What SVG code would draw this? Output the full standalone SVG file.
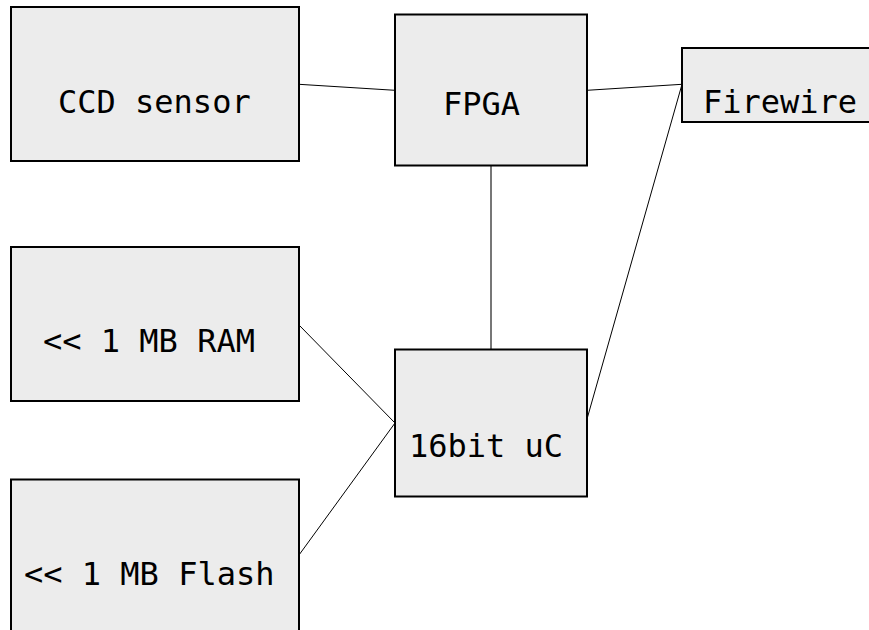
<svg xmlns="http://www.w3.org/2000/svg" width="869" height="630" viewBox="0 0 869 630">
<style>
.box{fill:#ececec;stroke:#000;stroke-width:2}
.lbl{font-family:"DejaVu Sans Mono",monospace;font-size:32px;fill:#000}
.con{stroke:#000;stroke-width:1;fill:none}
.gray{stroke:#777;stroke-width:2}
</style>
<rect width="869" height="630" fill="#fff"/>
<g id="connectors">
<line class="con" x1="299" y1="84.3" x2="395" y2="90.3"/>
<line class="con" x1="587" y1="90.3" x2="682" y2="84.3"/>
<line class="con gray" x1="491" y1="166" x2="491" y2="349"/>
<line class="con" x1="682" y1="84.3" x2="587" y2="419"/>
<line class="con" x1="299" y1="325" x2="395" y2="423"/>
<line class="con" x1="299" y1="555" x2="395" y2="423"/>
</g>
<g id="ccd"><rect class="box" x="11" y="7" width="288" height="154"/><text class="lbl" x="58" y="113">CCD sensor</text></g>
<g id="fpga"><rect class="box" x="395" y="14.5" width="192" height="151"/><text class="lbl" x="443" y="115">FPGA</text></g>
<g id="firewire"><rect class="box" x="682" y="48" width="193" height="74"/><text class="lbl" x="703" y="113">Firewire</text></g>
<g id="ram"><rect class="box" x="11" y="247" width="288" height="154"/><text class="lbl" x="43" y="352">&lt;&lt; 1 MB RAM</text></g>
<g id="uc"><rect class="box" x="395" y="349.5" width="192" height="147"/><text class="lbl" x="409" y="457">16bit uC</text></g>
<g id="flash"><rect class="box" x="11" y="479.5" width="288" height="160"/><text class="lbl" x="24" y="585">&lt;&lt; 1 MB Flash</text></g>
</svg>
